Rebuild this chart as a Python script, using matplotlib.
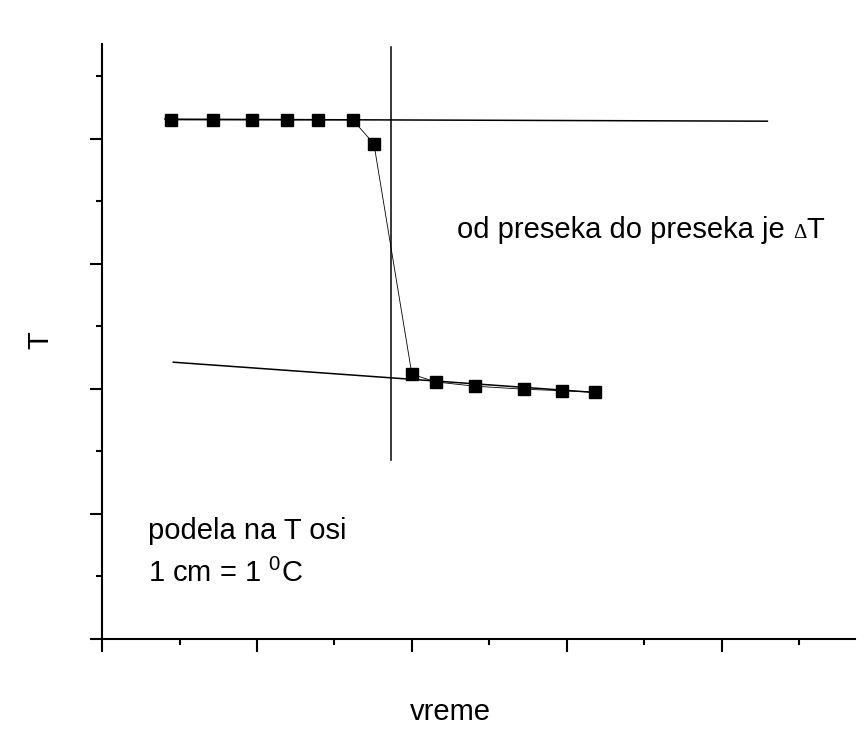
import matplotlib
matplotlib.use("Agg")
import matplotlib.pyplot as plt
from matplotlib.ticker import MultipleLocator, NullFormatter

plt.rcParams['font.family'] = ['Liberation Sans', 'DejaVu Sans']
plt.rcParams['mathtext.fontset'] = 'custom'
plt.rcParams['mathtext.rm'] = 'Liberation Sans'

# measured cooling/heating curve
time = [0.445, 0.716, 0.968, 1.194, 1.394, 1.619, 1.755,
        2.0, 2.155, 2.406, 2.723, 2.968, 3.181]
temp = [4.152, 4.152, 4.152, 4.152, 4.152, 4.152, 3.96,
        2.118, 2.056, 2.022, 1.998, 1.986, 1.974]

# extrapolated fits before and after the jump
upper_x = [0.406, 4.295]
upper_y = [4.158, 4.142]
lower_x = [0.46, 3.181]
lower_y = [2.214, 1.972]

# vertical cut
cut_x = 1.866
cut_y = [1.432, 4.739]

fig = plt.figure(figsize=(8.65, 7.31), dpi=100)
ax = fig.add_axes([0.118, 0.1259, 0.870, 0.814])

ax.plot(upper_x, upper_y, color='black', lw=1.1)
ax.plot(lower_x, lower_y, color='black', lw=1.1)
ax.plot([cut_x, cut_x], cut_y, color='black', lw=1.1)
ax.plot(time, temp, color='black', lw=0.6, marker='s', markersize=8.5)

ax.set_xlim(0, 4.858)
ax.set_ylim(0, 4.76)
ax.xaxis.set_major_locator(MultipleLocator(1))
ax.xaxis.set_minor_locator(MultipleLocator(0.5))
ax.yaxis.set_major_locator(MultipleLocator(1))
ax.yaxis.set_minor_locator(MultipleLocator(0.5))
ax.xaxis.set_major_formatter(NullFormatter())
ax.yaxis.set_major_formatter(NullFormatter())
ax.tick_params(which='major', direction='out', length=9, width=1.5)
ax.tick_params(which='minor', direction='out', length=4.5, width=1.5)

for side in ('top', 'right'):
    ax.spines[side].set_visible(False)
for side in ('left', 'bottom'):
    ax.spines[side].set_linewidth(1.5)

fs = 21
ax.text(2.29, 3.21, 'od preseka do preseka je', fontsize=fs, va='baseline')
ax.text(4.462, 3.21, 'Δ', fontsize=15, va='baseline', family='Liberation Serif')
ax.text(4.545, 3.21, 'T', fontsize=fs, va='baseline')
ax.text(0.297, 0.80, 'podela na T osi', fontsize=fs, va='baseline')
ax.text(0.297, 0.457, r'1 cm = 1 $^{0}$C', fontsize=fs, va='baseline')

fig.text(40 / 865, 1 - 340 / 731, 'T', fontsize=fs, rotation=90,
         ha='center', va='center')
fig.text(450 / 865, 1 - 712 / 731, 'vreme', fontsize=fs,
         ha='center', va='center')

fig.savefig('out.png', dpi=100)
